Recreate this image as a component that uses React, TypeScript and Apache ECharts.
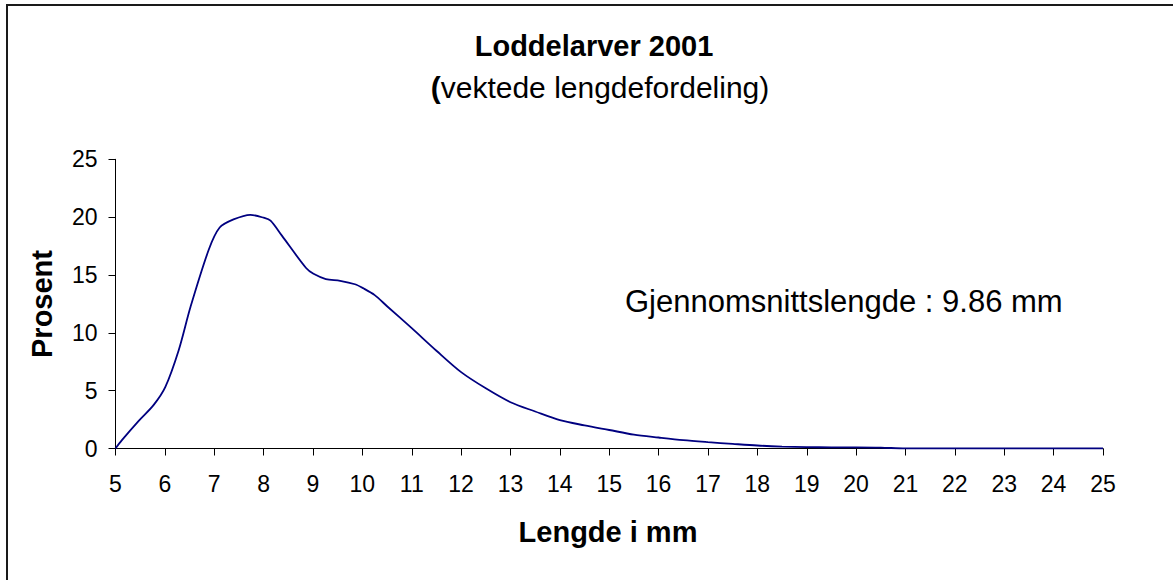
import React, { useEffect, useRef } from "react";
import * as echarts from "echarts";

const lengths: number[] = [5, 5.13, 5.47, 5.77, 6.01, 6.28, 6.52, 6.89, 7.11, 7.39, 7.73, 8.0, 8.14, 8.37, 8.86, 9.01, 9.26, 9.55, 9.85, 10.02, 10.25, 10.5, 11, 11.5, 12, 12.5, 13, 13.5, 14, 14.5, 15, 15.5, 16, 16.5, 17, 17.5, 18, 18.5, 19, 19.5, 20, 20.5, 21, 22, 23, 24, 25];
const percents: number[] = [0, 0.72, 2.39, 3.75, 5.33, 8.5, 12.25, 17.2, 19.1, 19.8, 20.2, 19.95, 19.7, 18.4, 15.6, 15.1, 14.65, 14.5, 14.2, 13.85, 13.26, 12.3, 10.4, 8.45, 6.6, 5.2, 4.0, 3.2, 2.45, 2.0, 1.6, 1.2, 0.95, 0.72, 0.55, 0.4, 0.26, 0.17, 0.12, 0.1, 0.1, 0.08, 0, 0, 0, 0, 0];

const titleText = "Loddelarver 2001";
const subtitleText = "vektede lengdefordeling)";
const annotationText = "Gjennomsnittslengde : 9.86 mm";
const xName = "Lengde i mm";
const yName = "Prosent";

const FONT = "'Liberation Sans', Arial, Helvetica, sans-serif";

export default function App() {
  const ref = useRef<HTMLDivElement>(null);
  useEffect(() => {
    if (!ref.current) return;
    const chart = echarts.init(ref.current, null, { renderer: "svg" });
    const data = lengths.map((x, i) => [x, percents[i]]);
    chart.setOption({
      animation: false,
      backgroundColor: "#ffffff",
      grid: { left: 115.5, top: 159.3, width: 987.5, height: 289.2, containLabel: false },
      xAxis: {
        type: "value",
        min: 5,
        max: 25,
        interval: 1,
        axisLine: { show: true, onZero: false, lineStyle: { color: "#000", width: 1 } },
        axisTick: { show: true, inside: false, length: 7, lineStyle: { color: "#000", width: 1 } },
        axisLabel: { color: "#000", fontSize: 23, fontFamily: FONT, margin: 24 },
        splitLine: { show: false },
      },
      yAxis: {
        type: "value",
        min: 0,
        max: 25,
        interval: 5,
        axisLine: { show: true, lineStyle: { color: "#000", width: 1 } },
        axisTick: { show: true, inside: false, length: 7, lineStyle: { color: "#000", width: 1 } },
        axisLabel: { color: "#000", fontSize: 23, fontFamily: FONT, margin: 18 },
        splitLine: { show: false },
      },
      series: [
        {
          type: "line",
          data,
          smooth: 0.3,
          showSymbol: false,
          symbol: "none",
          lineStyle: { color: "#000080", width: 1.8 },
          z: 5,
        },
      ],
      graphic: [
        {
          type: "rect",
          shape: { x: 7, y: 5, width: 1220, height: 640 },
          style: { fill: "none", stroke: "#1a1a1a", lineWidth: 2 },
          silent: true,
        },
        {
          type: "text",
          x: 594,
          y: 46,
          style: {
            text: titleText,
            fontSize: 29,
            fontWeight: "bold",
            fontFamily: FONT,
            fill: "#000",
            textAlign: "center",
            textVerticalAlign: "middle",
            align: "center",
            verticalAlign: "middle",
          },
        },
        {
          type: "text",
          x: 600,
          y: 87,
          style: {
            text: "{b|(}" + subtitleText,
            fontSize: 30,
            fontFamily: FONT,
            fill: "#000",
            textAlign: "center",
            textVerticalAlign: "middle",
            align: "center",
            verticalAlign: "middle",
            rich: {
              b: { fontSize: 30, fontWeight: "bold", fontFamily: FONT, fill: "#000" },
            },
          },
        },
        {
          type: "text",
          x: 625,
          y: 301,
          style: {
            text: annotationText,
            fontSize: 31,
            fontFamily: FONT,
            fill: "#000",
            textAlign: "left",
            textVerticalAlign: "middle",
            align: "left",
            verticalAlign: "middle",
          },
        },
        {
          type: "text",
          x: 608,
          y: 532,
          style: {
            text: xName,
            fontSize: 29,
            fontWeight: "bold",
            fontFamily: FONT,
            fill: "#000",
            textAlign: "center",
            textVerticalAlign: "middle",
            align: "center",
            verticalAlign: "middle",
          },
        },
        {
          type: "text",
          x: 42,
          y: 304,
          rotation: Math.PI / 2,
          style: {
            text: yName,
            fontSize: 29,
            fontWeight: "bold",
            fontFamily: FONT,
            fill: "#000",
            textAlign: "center",
            textVerticalAlign: "middle",
            align: "center",
            verticalAlign: "middle",
          },
        },
      ],
    });
    return () => chart.dispose();
  }, []);
  return (
    <div
      ref={ref}
      style={{ position: "absolute", left: 0, top: 0, width: 1173, height: 580, background: "#fff" }}
    />
  );
}
